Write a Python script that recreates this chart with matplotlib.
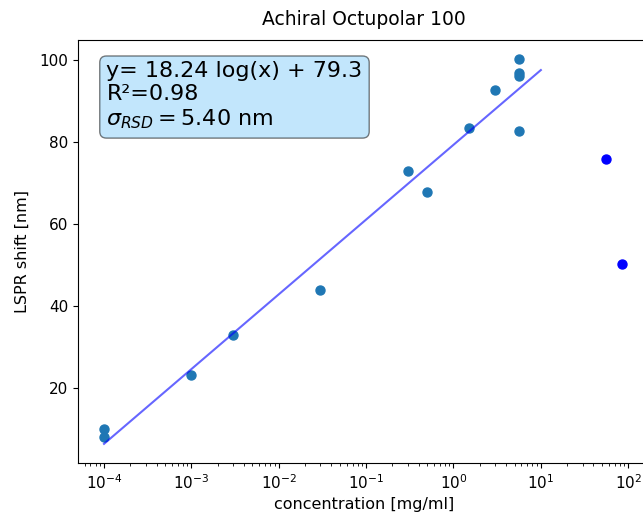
import numpy as np
import matplotlib
matplotlib.use('Agg')
import matplotlib.pyplot as plt

# measured points used in the fit
conc = [1e-4, 1e-4, 1e-3, 3e-3, 3e-2, 0.3, 0.5, 1.5, 3, 5.6, 5.6, 5.6, 5.6]
shift = [10.0, 8.1, 23.2, 32.9, 43.8, 73.0, 67.7, 83.3, 92.6, 100.2, 96.9, 96.0, 82.6]

# points left out of the fit
conc_out = [55, 85]
shift_out = [75.9, 50.3]

# fit y = a*log10(x) + b
fit_a = 18.24
fit_b = 79.3
fit_range = [1e-4, 10]

fig = plt.figure(figsize=(6.43, 5.18), dpi=100)
ax = fig.add_axes([0.121, 0.106, 0.890, 0.817])

ax.scatter(conc, shift, color='C0', s=42)
ax.scatter(conc_out, shift_out, color='b', s=42)

fit_x = np.array(fit_range)
ax.plot(fit_x, fit_a * np.log10(fit_x) + fit_b, color='b', alpha=0.6)

ax.set_xscale('log')
ax.set_xlim(10 ** -4.3, 10 ** 2.25)
ax.set_ylim(1.65, 104.9)
ax.set_yticks([20, 40, 60, 80, 100])
ax.tick_params(labelsize=11)

ax.set_title('Achiral Octupolar 100', fontsize=13.5, pad=11)
ax.set_xlabel('concentration [mg/ml]', fontsize=11.5)
ax.set_ylabel('LSPR shift [nm]', fontsize=11.5, labelpad=7)

# fit summary box
props = dict(boxstyle='round', facecolor='lightskyblue', alpha=0.5)
txt = 'y= 18.24 log(x) + 79.3\nR\u00b2=0.98\n' + r'$\sigma_{RSD} = 5.40$ nm'
ax.text(0.05, 0.95, txt, transform=ax.transAxes, fontsize=16,
        verticalalignment='top', bbox=props)

fig.savefig('out.png', dpi=100)
